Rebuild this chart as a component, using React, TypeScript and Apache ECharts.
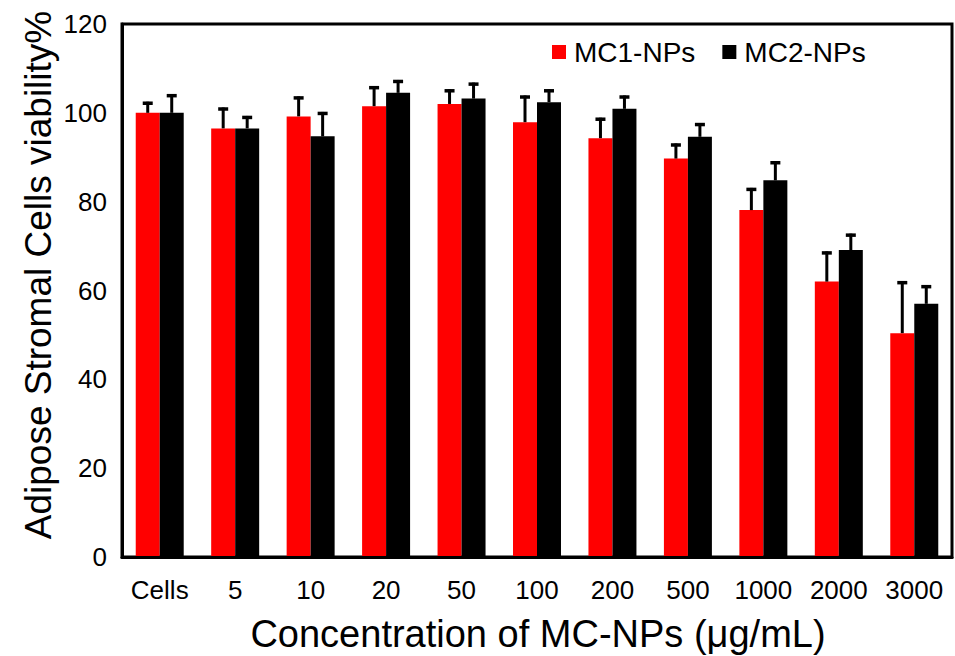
import React, { useEffect, useRef } from "react";
import * as echarts from "echarts";

const categories = ["Cells", "5", "10", "20", "50", "100", "200", "500", "1000", "2000", "3000"];
const mc1Values = [100, 96.5, 99.2, 101.5, 102.0, 97.9, 94.3, 89.7, 78.1, 62.0, 50.4];
const mc1Errors = [2.5, 4.7, 4.5, 4.5, 3.3, 6.0, 4.6, 3.4, 5.0, 6.8, 11.7];
const mc2Values = [100, 96.5, 94.7, 104.5, 103.2, 102.4, 100.9, 94.6, 84.8, 69.1, 57.0];
const mc2Errors = [4.2, 2.8, 5.5, 2.9, 3.6, 2.9, 3.0, 3.1, 4.3, 3.7, 4.2];
const yTicks = [0, 20, 40, 60, 80, 100, 120];

const FONT = "'Liberation Sans', Arial, sans-serif";
const BAR_RATIO = 0.318;

function errorSeries(name: string, values: number[], errors: number[], side: number) {
  return {
    type: "custom",
    name: name + " error",
    z: 5,
    silent: true,
    encode: { x: 0, y: 1 },
    data: values.map((v, i) => [i, v, errors[i]]),
    renderItem: (params: any, api: any) => {
      const ci = api.value(0);
      const v = api.value(1);
      const e = api.value(2);
      const base = api.coord([ci, v]);
      const top = api.coord([ci, v + e]);
      const bw = api.size([1, 0])[0] * BAR_RATIO;
      const x = base[0] + (side * bw) / 2;
      return {
        type: "group",
        children: [
          {
            type: "line",
            shape: { x1: x, y1: base[1], x2: x, y2: top[1] },
            style: { stroke: "#000", lineWidth: 3 },
          },
          {
            type: "line",
            shape: { x1: x - 5, y1: top[1] + 1.5, x2: x + 5, y2: top[1] + 1.5 },
            style: { stroke: "#000", lineWidth: 3.5 },
          },
        ],
      };
    },
  };
}

export default function App() {
  const ref = useRef<HTMLDivElement>(null);
  useEffect(() => {
    if (!ref.current) return;
    const chart = echarts.init(ref.current, null, { renderer: "svg" });
    chart.setOption({
      animation: false,
      backgroundColor: "#fff",
      grid: {
        left: 122,
        right: 3,
        top: 24,
        bottom: 99,
        show: true,
        borderColor: "#000",
        borderWidth: 3,
      },
      legend: {
        data: [
          { name: "MC1-NPs", icon: "rect" },
          { name: "MC2-NPs", icon: "rect" },
        ],
        left: 552,
        top: 38,
        padding: 0,
        itemWidth: 14,
        itemHeight: 14,
        itemGap: 27,
        textStyle: { fontFamily: FONT, fontSize: 28, color: "#000", padding: [0, 0, 0, 3] },
      },
      xAxis: {
        type: "category",
        data: categories,
        axisLine: { show: true, lineStyle: { color: "#000", width: 3 } },
        axisTick: { show: false },
        axisLabel: { fontFamily: FONT, fontSize: 26, color: "#000", margin: 20 },
        z: 10,
      },
      yAxis: {
        type: "value",
        min: 0,
        max: 120,
        interval: 20,
        splitLine: { show: false },
        axisLine: { show: true, lineStyle: { color: "#000", width: 3 } },
        axisTick: { show: false },
        axisLabel: {
          fontFamily: FONT,
          fontSize: 26,
          color: "#000",
          margin: 15,
          formatter: (v: number) => (yTicks.includes(v) ? String(v) : ""),
        },
      },
      graphic: [
        {
          type: "text",
          x: 538,
          y: 634,
          style: {
            text: "Concentration of MC-NPs (μg/mL)",
            font: `38px ${FONT}`,
            fill: "#000",
            textAlign: "center",
            textVerticalAlign: "middle",
          },
        },
        {
          type: "text",
          x: 38,
          y: 275,
          rotation: Math.PI / 2,
          style: {
            text: "Adipose Stromal Cells viability%",
            font: `37px ${FONT}`,
            fill: "#000",
            textAlign: "center",
            textVerticalAlign: "middle",
          },
        },
      ],
      series: [
        {
          type: "bar",
          name: "MC1-NPs",
          data: mc1Values,
          barWidth: BAR_RATIO * 100 + "%",
          barGap: "0%",
          itemStyle: { color: "#ff0000" },
        },
        {
          type: "bar",
          name: "MC2-NPs",
          data: mc2Values,
          barWidth: BAR_RATIO * 100 + "%",
          barGap: "0%",
          itemStyle: { color: "#000000" },
        },
        errorSeries("MC1-NPs", mc1Values, mc1Errors, -1),
        errorSeries("MC2-NPs", mc2Values, mc2Errors, 1),
      ],
    });
    return () => chart.dispose();
  }, []);
  return (
    <div
      ref={ref}
      style={{ position: "fixed", left: 0, top: 0, width: 955, height: 656, background: "#fff" }}
    />
  );
}
